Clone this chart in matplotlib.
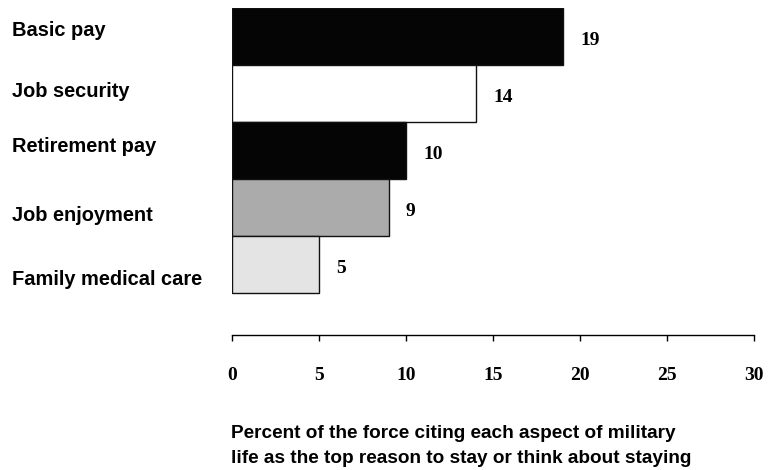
import matplotlib
matplotlib.use("Agg")
import matplotlib.pyplot as plt

categories = ["Basic pay", "Job security", "Retirement pay", "Job enjoyment", "Family medical care"]
values = [19, 14, 10, 9, 5]
colors = ["#050505", "#ffffff", "#050505", "#ababab", "#e4e4e4"]
xticks = [0, 5, 10, 15, 20, 25, 30]

fig = plt.figure(figsize=(7.69, 4.70), dpi=100)
ax = fig.add_axes([232/769, 1 - 335/470, (754 - 232)/769, (335 - 8)/470])

ypos = list(range(len(categories)))
ax.barh(ypos, values, height=1.0, color=colors, edgecolor="#111111", linewidth=1.0, align="center")

ax.set_xlim(0, 30)
ax.set_ylim(4.5 + 42/57, -0.5)

for s in ["top", "left", "right"]:
    ax.spines[s].set_visible(False)
ax.spines["bottom"].set_linewidth(1.0)
ax.set_yticks([])
ax.set_xticks(xticks)
ax.set_xticklabels([str(t) for t in xticks], fontfamily="Liberation Serif", fontweight="bold", fontsize=14)
ax.tick_params(axis="x", direction="out", length=4, width=1, pad=19)

for y, v in zip(ypos, values):
    ax.text(v + 1.0, y + 0.07, str(v), ha="left", va="center",
            fontfamily="Liberation Serif", fontweight="bold", fontsize=14)

label_baselines = [36, 97, 152, 221, 285]
for c, b in zip(categories, label_baselines):
    fig.text(12/769, 1 - b/470, c, ha="left", va="baseline",
             fontfamily="Liberation Sans", fontweight="bold", fontsize=14.4)

title_lines = ["Percent of the force citing each aspect of military",
               "life as the top reason to stay or think about staying"]
for line, b in zip(title_lines, [438, 463]):
    fig.text(231/769, 1 - b/470, line, ha="left", va="baseline",
             fontfamily="Liberation Sans", fontweight="bold", fontsize=13.7)

fig.savefig("out.png", dpi=100)
